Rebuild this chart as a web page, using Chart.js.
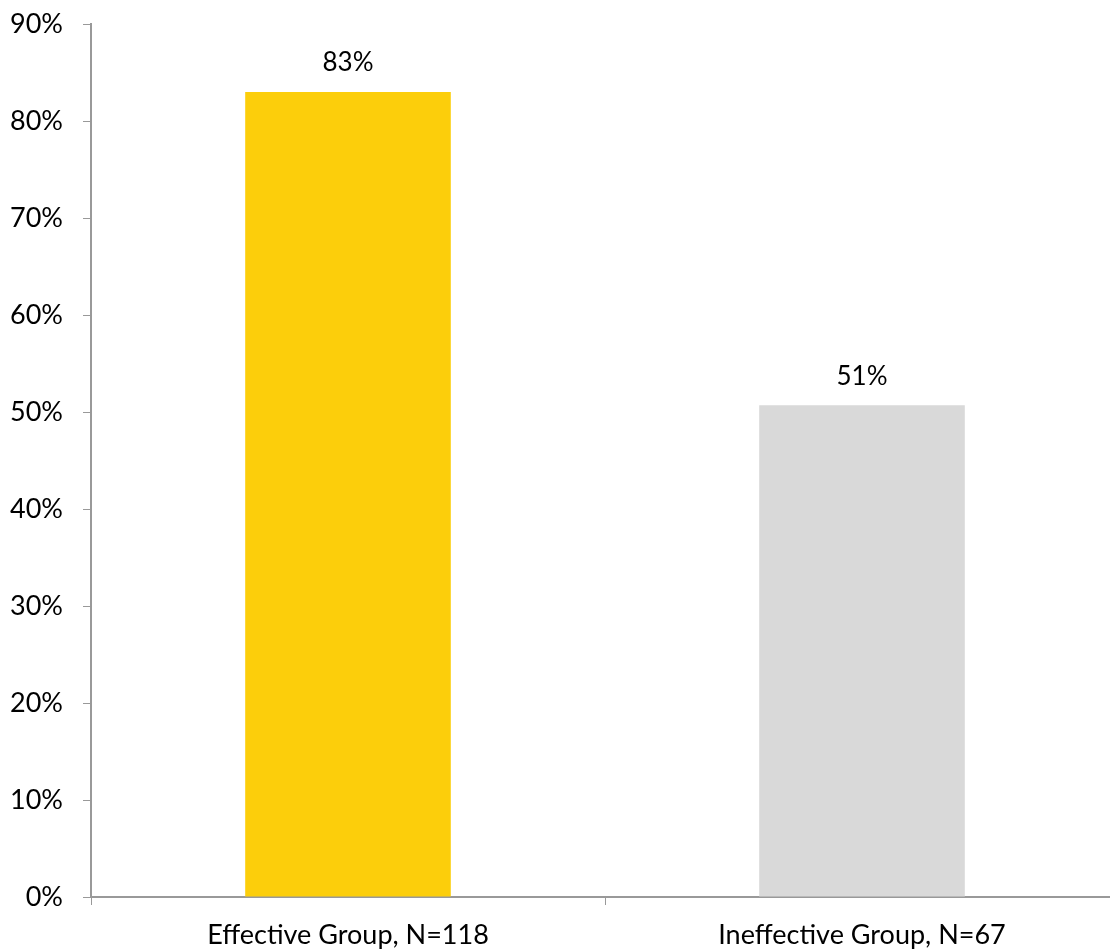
<!DOCTYPE html>
<html>
<head>
<meta charset="utf-8">
<script src="https://cdn.jsdelivr.net/npm/chart.js@4"></script>
<style>
  html, body { margin: 0; padding: 0; background: #fff; overflow: hidden; }
  #wrap { width: 1119px; height: 952px; }
</style>
</head>
<body>
<div id="wrap"><canvas id="bars"></canvas></div>
<script>
var groups = ['Effective Group, N=118', 'Ineffective Group, N=67']
var shares = [83, 50.7]
var shareLabels = ['83%', '51%']
var barColors = ['#FCCE0B', '#D9D9D9']
var yTicks = [0, 10, 20, 30, 40, 50, 60, 70, 80, 90]

var fontName = 'Lato'

// writes the percentage above each bar
var valueLabels = {
  id: 'valueLabels',
  afterDatasetsDraw(chart) {
    let ctx = chart.ctx
    let meta = chart.getDatasetMeta(0)
    ctx.save()
    ctx.font = '26px ' + fontName
    ctx.fillStyle = '#000'
    ctx.textAlign = 'center'
    ctx.textBaseline = 'middle'
    meta.data.forEach((bar, i) => {
      ctx.fillText(shareLabels[i], bar.x, bar.y - 29)
    })
    ctx.restore()
  }
}

new Chart(document.getElementById('bars'), {
  type: 'bar',
  data: {
    labels: groups,
    datasets: [{
      data: shares,
      backgroundColor: barColors,
      borderWidth: 0,
      barPercentage: 0.4,
      categoryPercentage: 1
    }]
  },
  options: {
    responsive: true,
    maintainAspectRatio: false,
    animation: false,
    layout: { padding: { top: 24, right: 0, bottom: 0, left: 0 } },
    plugins: { legend: { display: false }, tooltip: { enabled: false } },
    scales: {
      x: {
        grid: { display: true, drawOnChartArea: false, color: '#999', tickLength: 8, offset: true },
        border: { color: '#999', width: 2 },
        ticks: { color: '#000', font: { family: fontName, size: 27 }, padding: 14 },
        afterFit: (scale) => {
          scale.height = 55
          scale.paddingLeft = 0
          scale.paddingRight = 0
        }
      },
      y: {
        min: 0,
        max: 90,
        afterBuildTicks: (scale) => { scale.ticks = yTicks.map(v => ({ value: v })) },
        grid: { display: true, drawOnChartArea: false, color: '#999', tickLength: 8 },
        border: { color: '#999', width: 2 },
        ticks: { color: '#000', font: { family: fontName, size: 27 }, padding: 20, callback: (v) => v + '%' },
        afterFit: (scale) => {
          scale.width = 91
          scale.paddingTop = 0
          scale.paddingBottom = 0
        }
      }
    }
  },
  plugins: [valueLabels]
})
</script>
</body>
</html>
